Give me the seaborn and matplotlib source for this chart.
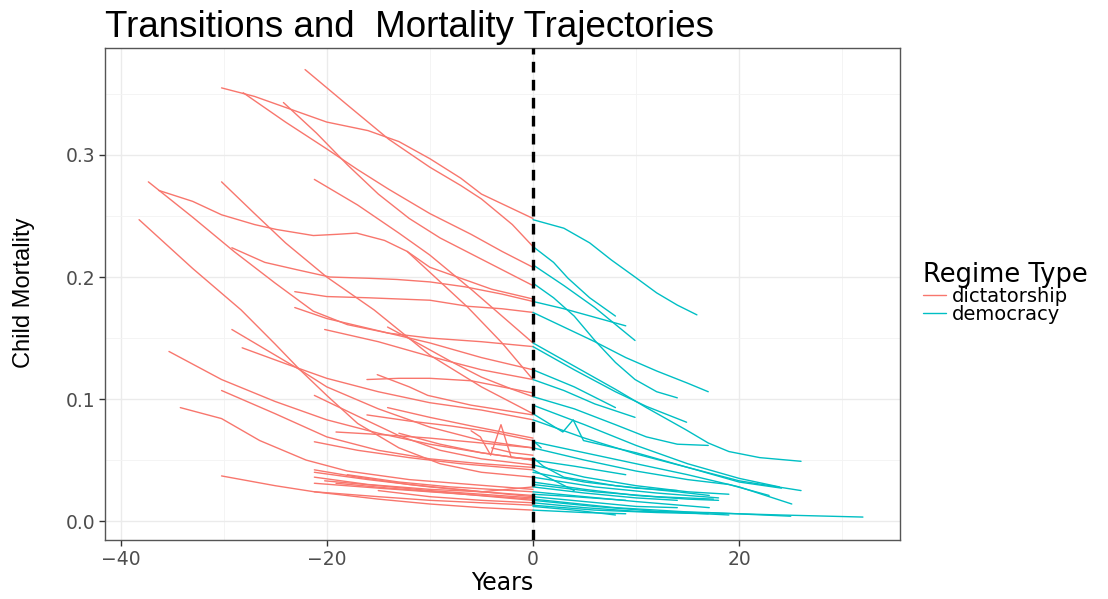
import matplotlib
matplotlib.use("Agg")
import matplotlib.pyplot as plt
from matplotlib.lines import Line2D
import pandas as pd
import seaborn as sns

# Child mortality trajectories around the democratic transition (year 0).
# Each path is a list of (years relative to transition, child mortality).
dictatorship_paths = [
    [(-22.1, .370), (-18, .341), (-14, .313), (-10, .290), (-7, .275), (-5, .264), (-2, .243), (0, .225)],
    [(-30.2, .355), (-27, .348), (-23, .336), (-20, .327), (-16, .320), (-13, .311), (-10, .297),
     (-7, .281), (-5, .268), (-2, .256), (0, .248)],
    [(-28.1, .351), (-24, .327), (-20, .305), (-17, .288), (-14, .272), (-10, .252), (-6, .235), (-3, .221), (0, .208)],
    [(-24.2, .343), (-21, .318), (-18, .292), (-15, .268), (-12, .248), (-9, .232), (-6, .219), (-3, .206), (0, .193)],
    [(-36.3, .271), (-33, .262), (-30.2, .251), (-27, .243), (-24.9, .239), (-21.3, .234), (-19, .235),
     (-17.1, .236), (-14.4, .230), (-12.2, .221), (-10, .208), (-7, .199), (-4, .190), (0, .182)],
    [(-29.2, .224), (-26, .212), (-22.9, .206), (-19.7, .200), (-16, .199), (-13.2, .198), (-10, .196),
     (-6.6, .192), (-3, .186), (0, .180)],
    [(-23.1, .188), (-20, .184), (-16, .183), (-10, .181), (-6.3, .176), (-3, .174), (0, .171)],
    [(-21.2, .280), (-17, .259), (-13, .236), (-10, .218), (-6, .190), (-3, .168), (0, .146)],
    [(-30.2, .278), (-27, .252), (-24, .228), (-20, .200), (-15.4, .173), (-10, .136), (-5, .110), (0, .088)],
    [(-37.3, .278), (-33, .249), (-29, .221), (-25, .195), (-21.3, .172), (-18, .161), (-14, .154),
     (-10, .150), (-5, .147), (0, .143)],
    [(-38.2, .247), (-33, .207), (-28.3, .173), (-25, .145), (-22.6, .124), (-20, .103), (-17, .080),
     (-13, .060), (-9, .047), (-5, .040), (0, .036)],
    [(-23.1, .175), (-20, .166), (-15, .156), (-10, .146), (-5, .134), (0, .124)],
    [(-20.2, .157), (-15, .147), (-10, .135), (-5, .124), (0, .116)],
    [(-35.3, .139), (-30.2, .116), (-25, .098), (-20, .083), (-15, .072), (-10, .063), (-5, .056), (0, .050)],
    [(-34.2, .093), (-30.2, .084), (-26.5, .066), (-22, .050), (-18, .041), (-12, .034), (-6, .030), (0, .026)],
    [(-30.2, .107), (-25, .088), (-20, .069), (-15, .058), (-10, .051), (-5, .047), (0, .044)],
    [(-29.2, .157), (-25.8, .140), (-22.6, .124), (-20, .110), (-15, .092), (-10, .077), (-5, .066), (0, .060)],
    [(-28.2, .142), (-24, .129), (-20, .117), (-15, .106), (-10, .097), (-5, .091), (0, .083)],
    [(-30.2, .037), (-25, .029), (-21.2, .024), (-15, .018), (-10, .014), (-5, .011), (0, .009)],
    [(-21.2, .103), (-17, .086), (-13, .070), (-9, .058), (-5, .051), (0, .046)],
    [(-16.1, .116), (-13, .117), (-10, .117), (-6, .115), (-3, .110), (0, .105)],
    [(-15.1, .120), (-12, .110), (-10.2, .103), (-6, .095), (-3, .091), (0, .087)],
    [(-14.1, .159), (-11, .145), (-8, .131), (-5, .118), (-2, .108), (0, .102)],
    [(-12.2, .221), (-8.6, .193), (-6.3, .175), (-3, .146), (0, .116)],
    [(-16.1, .087), (-12, .082), (-8, .078), (-4, .073), (0, .066)],
    [(-14.1, .093), (-10, .085), (-6, .078), (-3, .073), (0, .068)],
    [(-19.1, .073), (-15, .071), (-10, .068), (-5, .064), (0, .060)],
    [(-13.0, .072), (-9, .063), (-5, .056), (0, .050)],
    [(-21.2, .065), (-17, .058), (-12, .052), (-7, .047), (0, .042)],
    [(-21.2, .042), (-17, .036), (-12, .030), (-6, .025), (0, .020)],
    [(-21.2, .040), (-16, .034), (-10, .028), (-5, .024), (0, .021)],
    [(-21.2, .031), (-15, .027), (-10, .024), (-5, .021), (0, .018)],
    [(-21.2, .024), (-15, .020), (-10, .017), (-5, .015), (0, .013)],
    [(-19.1, .031), (-14, .027), (-8, .023), (0, .017)],
    [(-20.2, .033), (-15, .029), (-10, .025), (-5, .022), (0, .019)],
    [(-18.0, .038), (-13, .032), (-8, .028), (0, .024)],
    [(-21.2, .036), (-16, .030), (-10, .026), (-5, .024), (0, .028)],
    [(-15.0, .025), (-10, .020), (-5, .017), (0, .015)],
    [(-6.0, .074), (-5.1, .069), (-4.1, .054), (-3.1, .079), (-2.1, .052), (0, .051)],
    [(-4.0, .060), (-2, .056), (0, .054)],
]

democracy_paths = [
    [(0, .247), (3, .240), (5.5, .228), (7.6, .214), (9.9, .200), (12, .187), (14, .177), (15.9, .169)],
    [(0, .225), (2, .212), (3.4, .199), (5.5, .183), (8, .168)],
    [(0, .210), (3, .193), (6, .175), (9.9, .148)],
    [(0, .195), (2, .183), (4, .168), (6, .148), (8, .130), (9.9, .116), (12, .106), (14, .101)],
    [(0, .180), (3, .174), (6, .167), (9, .160)],
    [(0, .171), (3, .159), (6, .147), (9, .134), (12, .123), (15, .113), (17, .106)],
    [(0, .146), (4, .127), (8, .108), (11, .093), (14.8, .075), (17, .064), (19, .057), (22, .052), (26, .049)],
    [(0, .143), (4, .124), (8, .106), (11, .094), (14.9, .081)],
    [(0, .124), (4, .110), (8, .093)],
    [(0, .116), (3, .107), (6, .096), (9.9, .085)],
    [(0, .102), (4, .092), (8, .079), (11, .069), (14, .063), (17, .062)],
    [(0, .095), (5, .079), (10, .062), (15, .047), (20, .035), (23.9, .028)],
    [(0, .088), (2.9, .073), (3.9, .083), (4.9, .066), (10, .056), (15, .044), (20, .032), (24.1, .027)],
    [(0, .083), (5, .068), (10, .055), (15, .044), (20, .033), (26, .025)],
    [(0, .066), (0.8, .060)],
    [(0, .065), (5, .056), (10, .047), (15, .038), (20, .028), (25.1, .014)],
    [(0, .060), (5, .050), (10, .041), (15, .034), (19, .030), (22.9, .021)],
    [(0, .050), (4, .045), (9, .038)],
    [(0, .052), (1, .045), (3, .036), (8, .029), (14, .024), (17.1, .021)],
    [(0, .046), (5, .036), (10, .029), (15, .024), (19, .022)],
    [(0, .042), (4, .025)],
    [(0, .036), (6, .028), (12, .023), (18, .019)],
    [(0, .032), (5, .026), (10, .021), (15, .018), (18, .017)],
    [(0, .028), (5, .023), (10, .019), (14, .017)],
    [(0, .024), (5, .020), (10, .016), (17.1, .011)],
    [(0, .020), (5, .016), (10, .012), (14, .011)],
    [(0, .017), (6, .012), (12, .008), (19, .005)],
    [(0, .015), (5, .011), (10, .008), (17, .007), (25, .004)],
    [(0, .012), (4, .009), (8, .005)],
    [(0, .018), (8, .011), (16, .007), (24, .005), (32, .0033)],
    [(0, .009), (5, .007), (9, .006)],
    [(0, .013), (6, .009), (12, .007), (17, .006)],
    [(0, .022), (4, .020), (9, .017)],
    [(0, .030), (6, .024), (12, .020), (17.5, .018)],
    [(0, .040), (5, .032), (10, .027), (14, .025)],
]

regime_labels = ["dictatorship", "democracy"]
regime_colors = ["#F8766D", "#00BFC4"]

rows = []
uid = 0
for label, paths in zip(regime_labels, [dictatorship_paths, democracy_paths]):
    for path in paths:
        for yr, val in path:
            rows.append({"unit": uid, "Years": yr, "mortality": val, "regime": label})
        uid += 1
df = pd.DataFrame(rows)

sns.set_theme(style="white")
plt.rcParams["font.family"] = ["DejaVu Sans"]
plt.rcParams["text.color"] = "black"
narrow = ["Liberation Sans Narrow", "Liberation Sans", "DejaVu Sans"]

fig = plt.figure(figsize=(11.08, 5.99), dpi=100)
ax = fig.add_axes([0.0948, 0.0985, 0.7175, 0.8214])

sns.lineplot(data=df, x="Years", y="mortality", hue="regime", units="unit",
             estimator=None, sort=False, palette=dict(zip(regime_labels, regime_colors)),
             linewidth=1.0, legend=False, ax=ax)

ax.axvline(0, color="black", linestyle=(0, (3.2, 2.2)), linewidth=2.4, zorder=5)

ax.set_xlim(-41.5, 35.6)
ax.set_ylim(-0.0155, 0.3877)
ax.set_xticks([-40, -20, 0, 20])
ax.set_yticks([0.0, 0.1, 0.2, 0.3])
ax.set_yticklabels(["0.0", "0.1", "0.2", "0.3"])
ax.set_xticks([-30, -10, 10, 30], minor=True)
ax.set_yticks([0.05, 0.15, 0.25, 0.35], minor=True)
ax.grid(True, which="major", color="#EBEBEB", linewidth=1.0)
ax.grid(True, which="minor", color="#F3F3F3", linewidth=0.6)
ax.set_axisbelow(True)
for sp in ax.spines.values():
    sp.set_color("#555555")
    sp.set_linewidth(1.0)
ax.tick_params(axis="both", which="major", length=4, width=1, color="#333333",
               labelcolor="#4D4D4D", labelsize=13.5, pad=3, direction="out",
               left=True, bottom=True)
ax.tick_params(axis="both", which="minor", length=0)

ax.set_xlabel("Years", fontsize=17, color="black", labelpad=2)
ax.set_ylabel("")
fig.text(0.0221, 0.511, "Child Mortality", rotation=90, fontsize=17, color="black",
         family=narrow, va="center", ha="center")
fig.text(0.0948, 0.939, "Transitions and  Mortality Trajectories", fontsize=26.5,
         color="black", family=narrow, ha="left", va="baseline")

handles = [Line2D([], [], color=c, linewidth=1.0) for c in regime_colors]
leg = fig.legend(handles, regime_labels, title="Regime Type", loc="upper left",
                 bbox_to_anchor=(0.833, 0.563), frameon=False, fontsize=14,
                 title_fontsize=18.5, handlelength=1.2, handletextpad=0.3,
                 labelspacing=-0.05, borderaxespad=0, borderpad=0)
leg._legend_box.align = "left"
for t in leg.get_texts():
    t.set_color("black")
leg.get_title().set_color("black")

fig.savefig("out.png", dpi=100)
